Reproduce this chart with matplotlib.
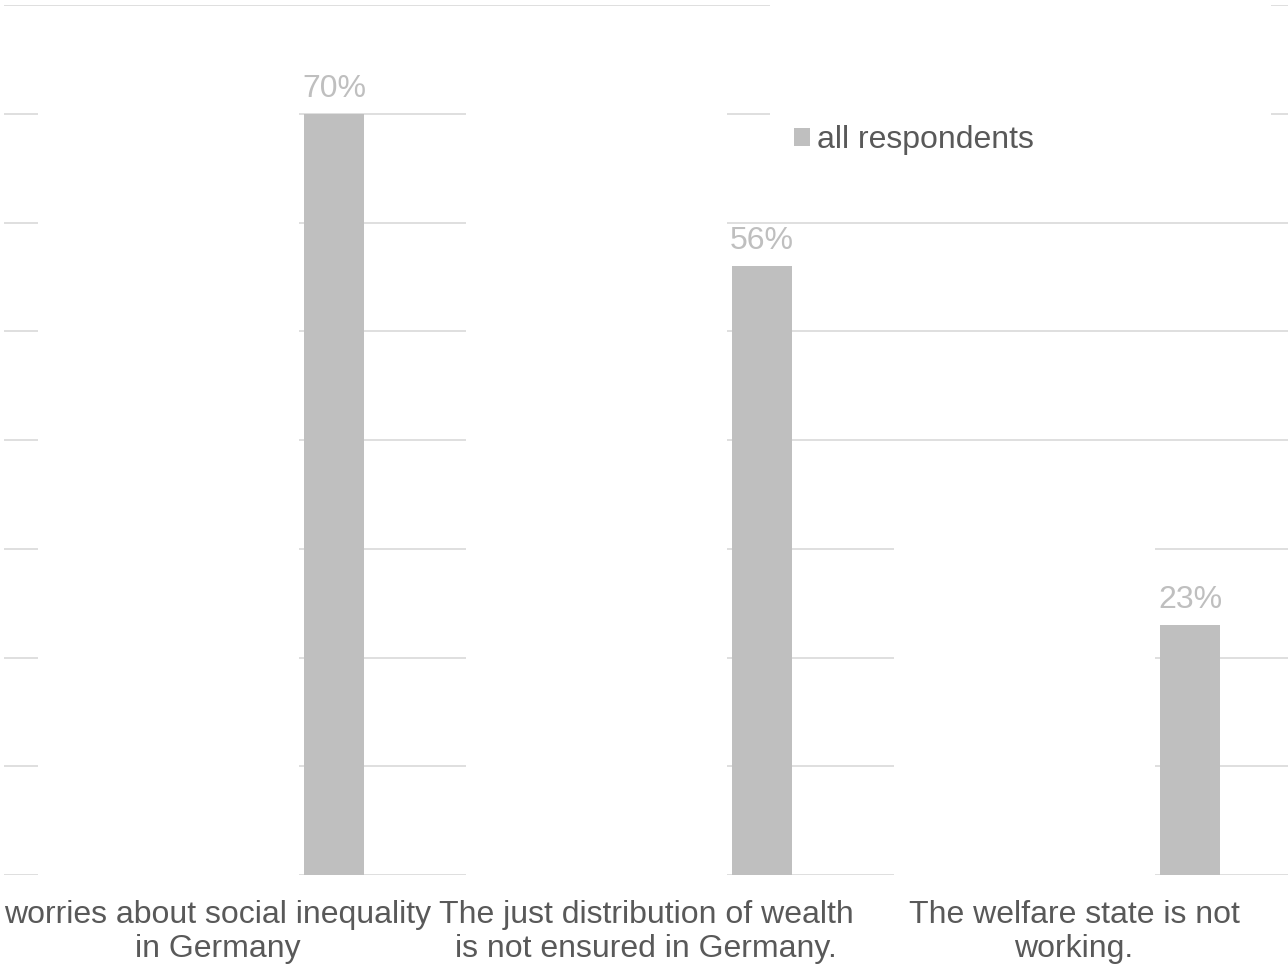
import matplotlib.pyplot as plt
from matplotlib.patches import Rectangle
import numpy as np

plt.rcParams['font.family'] = ['Liberation Sans', 'DejaVu Sans']

# data
categories = ["worries about social inequality\nin Germany",
              "The just distribution of wealth\nis not ensured in Germany.",
              "The welfare state is not\nworking."]
all_respondents = [70, 56, 23]
# other series of the original chart, filled white (they only hide the grid)
hidden_series = [75, 75, 35]
yticks = [0, 10, 20, 30, 40, 50, 60, 70, 80]

grey = "#bfbfbf"
text_col = "#595959"

fig = plt.figure(figsize=(12.88, 9.66), dpi=100)
ax = fig.add_axes([4/1288, 1 - 875/966, 1 - 4/1288, 870/966])

x = np.arange(len(categories))
ax.bar(x - 0.115, hidden_series, width=0.61, color="white", zorder=2)
bars = ax.bar(x + 0.271, all_respondents, width=0.14, color=grey,
              label="all respondents", zorder=3)
ax.bar_label(bars, labels=[f"{v}%" for v in all_respondents],
             padding=7, fontsize=23, color=grey)

ax.set_xlim(-0.5, 2.5)
ax.set_ylim(0, 80)
ax.set_yticks(yticks)
ax.yaxis.grid(True, color="#d9d9d9", linewidth=1.2, zorder=0)
ax.set_axisbelow(True)
ax.tick_params(axis="y", left=False, labelleft=False)
ax.set_xticks(x)
ax.set_xticklabels(categories, fontsize=23, color=text_col, linespacing=1.17)
ax.tick_params(axis="x", length=0, pad=18)
for s in ax.spines.values():
    s.set_visible(False)

# white legend area covering the grid
fig.patches.append(Rectangle((770/1288, 1 - 180/966), 501/1288, 180/966,
                             transform=fig.transFigure, facecolor="white",
                             edgecolor="none", zorder=4))
leg = fig.legend(loc="center left", bbox_to_anchor=(794/1288, 1 - 140/966),
                 frameon=False, fontsize=23, labelcolor=text_col,
                 handlelength=0.5, handleheight=0.5, handletextpad=0.22,
                 borderpad=0, borderaxespad=0)
leg.set_zorder(5)

plt.savefig("out.png", dpi=100)
